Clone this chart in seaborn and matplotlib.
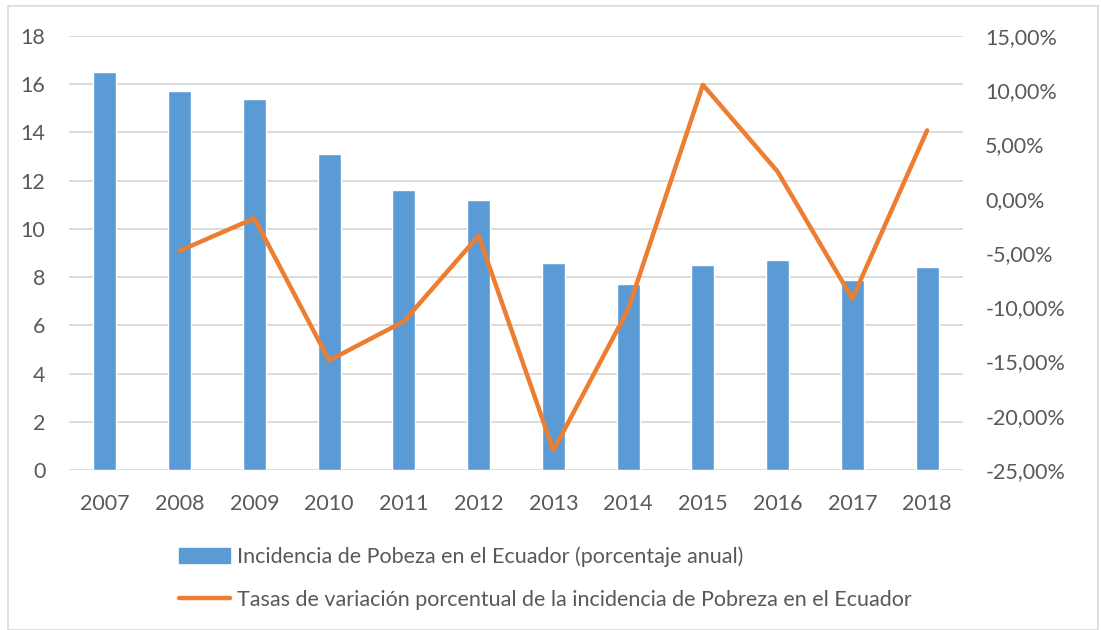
import numpy as np
import pandas as pd
import matplotlib.pyplot as plt
import seaborn as sns
from matplotlib.patches import Patch, Rectangle
from matplotlib.lines import Line2D
from matplotlib.ticker import FuncFormatter

# ── data ──────────────────────────────────────────────────────
years = ["2007", "2008", "2009", "2010", "2011", "2012",
         "2013", "2014", "2015", "2016", "2017", "2018"]
incidencia = [16.5, 15.7, 15.4, 13.1, 11.6, 11.2,
              8.6, 7.7, 8.5, 8.7, 7.9, 8.4]
variacion = [np.nan, -4.8, -1.8, -14.9, -11.3, -3.4,
             -23.2, -10.2, 10.5, 2.5, -9.2, 6.3]

label_bar = "Incidencia de Pobeza en el Ecuador (porcentaje anual)"
label_line = "Tasas de variación porcentual de la incidencia de Pobreza en el Ecuador"

BLUE = "#5B9BD5"
ORANGE = "#ED7D31"
TEXT = "#595959"
GRID = "#D9D9D9"
FS = 15.5

df = pd.DataFrame({"year": years, "incidencia": incidencia, "variacion": variacion})
df["pos"] = np.arange(len(df))

# ── plot ──────────────────────────────────────────────────────
sns.set_theme(style="white")
plt.rcParams["font.family"] = ["Lato", "DejaVu Sans"]

fig = plt.figure(figsize=(11.01, 6.3), dpi=100)
ax = fig.add_axes([69 / 1101, 1 - 470 / 630, (963 - 69) / 1101, (470 - 36) / 630])

sns.barplot(data=df, x="year", y="incidencia", color=BLUE, width=0.31,
            saturation=1, ax=ax, zorder=2)
ax.set_ylim(0, 18)
ax.set_yticks(range(0, 19, 2))
ax.set_xlim(-0.48, len(df) - 0.52)
ax.yaxis.grid(True, color=GRID, linewidth=1.3, zorder=0)
ax.set_axisbelow(True)
ax.set_xlabel("")
ax.set_ylabel("")
for s in ax.spines.values():
    s.set_visible(False)
ax.tick_params(axis="both", length=0, labelsize=FS, labelcolor=TEXT)
ax.tick_params(axis="x", pad=17)
ax.tick_params(axis="y", pad=17)

ax2 = ax.twinx()
sns.lineplot(data=df.dropna(), x="pos", y="variacion", color=ORANGE,
             linewidth=3.2, ax=ax2, solid_capstyle="round", solid_joinstyle="round")
ax2.set_ylim(-25, 15)
ax2.set_yticks(range(-25, 16, 5))
ax2.yaxis.set_major_formatter(FuncFormatter(lambda v, _: f"{v:.2f}%".replace(".", ",")))
ax2.set_ylabel("")
ax2.set_xlabel("")
for s in ax2.spines.values():
    s.set_visible(False)
ax2.tick_params(axis="y", length=0, labelsize=FS, labelcolor=TEXT, pad=16)
ax2.grid(False)

handles = [Patch(facecolor=BLUE, edgecolor=BLUE),
           Line2D([0], [0], color=ORANGE, linewidth=3.2, solid_capstyle="round")]
fig.legend(handles, [label_bar, label_line], loc="center",
           bbox_to_anchor=(545 / 1101, 1 - 578 / 630), ncol=1, frameon=False,
           fontsize=FS, labelcolor=TEXT, handlelength=2.4, handletextpad=0.3,
           labelspacing=1.05)

fig.patches.append(Rectangle((8 / 1101, 0), 1 - 11 / 1101, 1 - 6 / 630,
                             transform=fig.transFigure, fill=False,
                             edgecolor=GRID, linewidth=1.2))

fig.savefig("out.png", dpi=100)
